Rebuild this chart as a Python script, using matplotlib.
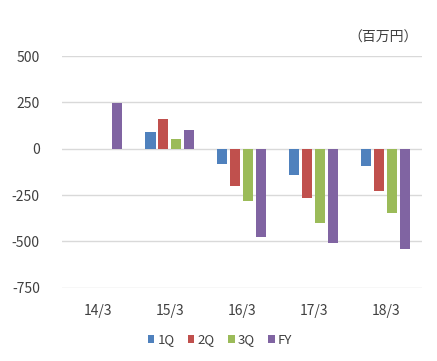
import matplotlib
matplotlib.use("Agg")
import matplotlib.pyplot as plt
import numpy as np

plt.rcParams['font.family'] = ['Noto Sans CJK JP', 'DejaVu Sans']

categories = ["14/3", "15/3", "16/3", "17/3", "18/3"]
series_names = ["1Q", "2Q", "3Q", "FY"]
q1 = [np.nan, 92, -85, -144, -96]
q2 = [np.nan, 162, -199, -265, -226]
q3 = [np.nan, 54, -282, -399, -345]
fy = [245, 103, -476, -507, -540]
colors = ["#4F81BD", "#C0504D", "#9BBB59", "#8064A2"]
yticks = [500, 250, 0, -250, -500, -750]

fig = plt.figure(figsize=(4.37, 3.61), dpi=100)
ax = fig.add_axes([62/437, 1-287.7/361, (421.7-62)/437, (287.7-56)/361])

x = np.arange(len(categories))
width = 0.14
step = 0.18
for i, (vals, c, name) in enumerate(zip([q1, q2, q3, fy], colors, series_names)):
    ax.bar(x + (i - 1.5) * step, vals, width, color=c, label=name, zorder=3)

ax.set_xlim(-0.5, len(categories) - 0.5)
ax.set_ylim(-750, 500)
ax.set_yticks(yticks)
ax.set_yticklabels([str(v) for v in yticks])
ax.set_xticks(x)
ax.set_xticklabels(categories)
ax.yaxis.grid(True, color="#D9D9D9", linewidth=1, zorder=0)
for s in ax.spines.values():
    s.set_visible(False)
ax.tick_params(axis='both', length=0, labelsize=10, colors="#404040")
ax.tick_params(axis='y', pad=16)
ax.tick_params(axis='x', pad=12)

fig.text(418/437, 1-38/361, "（百万円）", ha='right', va='center', fontsize=10, color="#404040")

leg = fig.legend(loc='center', bbox_to_anchor=(220/437, 1-340/361), ncol=4, frameon=False,
                 fontsize=9.5, handlelength=0.5, handleheight=0.5, handletextpad=0.25,
                 columnspacing=1.0, labelcolor="#404040")
fig.savefig("out.png", dpi=100)
